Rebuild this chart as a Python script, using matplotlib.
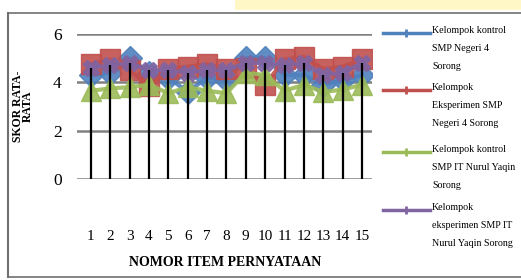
import matplotlib
matplotlib.use("Agg")
import matplotlib.pyplot as plt
from matplotlib.lines import Line2D
from matplotlib.patches import Rectangle

items = list(range(1, 16))
item_labels = [str(i) for i in items]
kontrol_smpn4 = [4.3, 4.4, 5.0, 4.4, 4.2, 3.6, 4.2, 4.1, 5.0, 5.0, 4.3, 4.3, 3.9, 4.1, 4.3]
eksperimen_smpn4 = [4.75, 4.95, 4.5, 3.85, 4.55, 4.65, 4.75, 4.55, 4.6, 3.9, 4.95, 5.05, 4.55, 4.65, 4.95]
kontrol_smpit = [3.65, 3.75, 3.8, 3.9, 3.55, 3.8, 3.65, 3.55, 4.4, 4.3, 3.65, 3.9, 3.6, 3.7, 3.9]
eksperimen_smpit = [4.6, 4.7, 4.8, 4.5, 4.5, 4.4, 4.5, 4.5, 4.8, 4.8, 4.7, 4.8, 4.3, 4.4, 4.8]
series_names = ["Kelompok kontrol\nSMP Negeri 4\nSorong",
                "Kelompok\nEksperimen SMP\nNegeri 4 Sorong",
                "Kelompok kontrol\nSMP IT Nurul Yaqin\nSorong",
                "Kelompok\neksperimen SMP IT\nNurul Yaqin Sorong"]
yticks = [0, 2, 4, 6]

colors = ["#4F81BD", "#C0504D", "#9BBB59", "#8064A2"]
markers = ["D", "s", "^", "X"]
msizes = [12, 15, 14, 12]
data = [kontrol_smpn4, eksperimen_smpn4, kontrol_smpit, eksperimen_smpit]

plt.rcParams['font.family'] = ['Liberation Serif', 'DejaVu Serif']

fig = plt.figure(figsize=(5.21, 2.8), dpi=100)
ax = fig.add_axes([77/521, (280-179)/280, (372-77)/521, (179-34)/280])

for vals, c, m, ms in zip(data, colors, markers, msizes):
    ax.plot(items, vals, color=c, lw=3, marker=m, markersize=ms,
            markeredgecolor=c, zorder=3, alpha=0.9)
ax.vlines(items, 0, eksperimen_smpit, color="black", lw=1.6, zorder=5)

ax.set_xlim(0.28, 15.52)
ax.set_ylim(0, 6)
ax.set_yticks(yticks)
ax.set_yticklabels([str(v) for v in yticks], fontsize=12.5)
ax.set_xticks(items)
ax.set_xticklabels(item_labels, fontsize=11)
ax.tick_params(axis='x', length=0, pad=37)
ax.tick_params(axis='y', length=0, pad=11)
for v in yticks:
    ax.axhline(v, color="#808080", lw=1.8, zorder=1)
for s in ax.spines.values():
    s.set_visible(False)
ax.set_ylabel("SKOR RATA-\nRATA", fontsize=8.5, fontweight='bold', linespacing=0.85)
ax.yaxis.set_label_coords(-0.145, 0.5)
fig.text(225/521, (280-263)/280, "NOMOR ITEM PERNYATAAN", fontsize=10,
         fontweight='bold', ha='center', va='center')

# legend
ys = [33, 90, 152, 210]
for y, c, name in zip(ys, colors, series_names):
    fy = (280 - y) / 280
    fig.add_artist(Line2D([383/521, 430/521], [fy, fy], color=c, lw=2.5,
                          transform=fig.transFigure))
    fig.add_artist(Line2D([406/521], [fy], color=c, marker='|', markersize=6,
                          mew=2, transform=fig.transFigure))
    fig.text(432/521, fy + 7/280, name, fontsize=7.2, va='top', ha='left',
             linespacing=2.3)

# frame
fig.add_artist(Line2D([8/521, 1], [(280-13)/280]*2, color="#707070", lw=1.2,
                      transform=fig.transFigure))
fig.add_artist(Line2D([8/521, 8/521], [(280-13)/280, (280-277)/280], color="#707070",
                      lw=1.5, transform=fig.transFigure))
fig.add_artist(Line2D([8/521, 1], [(280-277)/280]*2, color="#707070", lw=1.2,
                      transform=fig.transFigure))
fig.add_artist(Rectangle((235/521, 1 - 10/280), 286/521, 10/280, color="#FFF3A0",
                         alpha=0.6, transform=fig.transFigure, lw=0))

fig.savefig("out.png", dpi=100)
